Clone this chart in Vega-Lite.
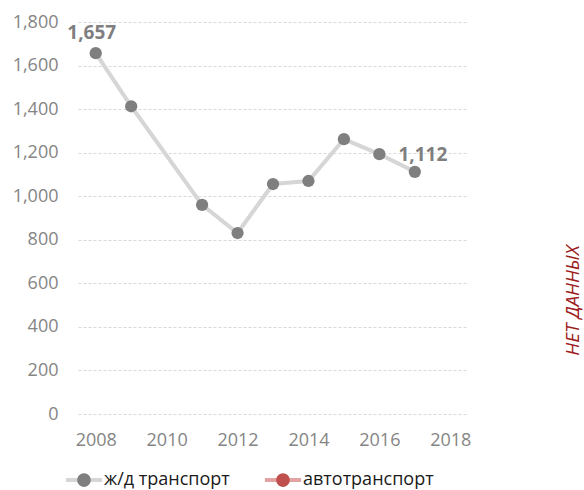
{
  "$schema": "https://vega.github.io/schema/vega-lite/v6.json",
  "autosize": "none",
  "width": 390,
  "height": 392,
  "padding": {"left": 78, "top": 22, "right": 116, "bottom": 76},
  "background": "white",
  "config": {
    "view": {"stroke": null},
    "font": "Open Sans",
    "axis": {"labelFont": "Open Sans", "labelColor": "#858585", "labelFontSize": 18, "domain": false, "ticks": false}
  },
  "data": {
    "values": [
      {"year": 2008, "value": 1657, "series": "ж/д транспорт", "code": "rail"},
      {"year": 2009, "value": 1413, "series": "ж/д транспорт", "code": "rail"},
      {"year": 2011, "value": 960, "series": "ж/д транспорт", "code": "rail"},
      {"year": 2012, "value": 831, "series": "ж/д транспорт", "code": "rail"},
      {"year": 2013, "value": 1056, "series": "ж/д транспорт", "code": "rail"},
      {"year": 2014, "value": 1070, "series": "ж/д транспорт", "code": "rail"},
      {"year": 2015, "value": 1262, "series": "ж/д транспорт", "code": "rail"},
      {"year": 2016, "value": 1193, "series": "ж/д транспорт", "code": "rail"},
      {"year": 2017, "value": 1112, "series": "ж/д транспорт", "code": "rail"}
    ]
  },
  "resolve": {"axis": {"y": "independent"}},
  "layer": [
    {
      "mark": {"type": "line", "strokeWidth": 4},
      "encoding": {
        "x": {"field": "year", "type": "quantitative",
          "scale": {"domain": [2007.5, 2018.5], "nice": false, "zero": false},
          "axis": {"values": [2008, 2010, 2012, 2014, 2016, 2018], "format": "d", "title": null, "grid": false, "labelPadding": 17}},
        "y": {"field": "value", "type": "quantitative",
          "scale": {"domain": [0, 1800], "nice": false},
          "axis": {"values": [0, 200, 400, 600, 800, 1000, 1200, 1400, 1600, 1800], "format": ",d", "title": null, "grid": true, "gridColor": "#d9d9d9", "gridDash": [3, 2], "labelPadding": 20}},
        "stroke": {"field": "series", "type": "nominal",
          "scale": {"domain": ["ж/д транспорт", "автотранспорт"], "range": ["#d6d6d6", "#e3a3a3"]},
          "legend": {"title": null, "orient": "none", "direction": "horizontal", "legendX": -14, "legendY": 438,
            "symbolType": "M-1,0L-0.35,0M0.35,0L1,0", "symbolSize": 1296, "symbolStrokeWidth": 4,
            "labelFont": "Open Sans", "labelFontSize": 18, "labelColor": "#1a1a1a", "labelOffset": 0,
            "columnPadding": 27, "padding": 0}}
      }
    },
    {
      "mark": {"type": "circle", "size": 150, "opacity": 1},
      "encoding": {
        "x": {"field": "year", "type": "quantitative"},
        "y": {"field": "value", "type": "quantitative", "axis": null},
        "fill": {"field": "code", "type": "nominal",
          "scale": {"domain": ["rail", "auto"], "range": ["#7f7f7f", "#c0504d"]},
          "legend": {"title": null, "orient": "none", "direction": "horizontal", "legendX": -14, "legendY": 438,
            "symbolType": "M-1,0L1,0M-0.38,0A0.38,0.38,0,1,1,0.38,0A0.38,0.38,0,1,1,-0.38,0Z", "symbolSize": 1296,
            "symbolStrokeWidth": 4, "symbolStrokeColor": "transparent", "symbolOpacity": 1,
            "labelExpr": "datum.value == 'rail' ? 'ж/д транспорт' : 'автотранспорт'",
            "labelFont": "Open Sans", "labelFontSize": 18, "labelOpacity": 0, "labelOffset": 0,
            "columnPadding": 27, "padding": 0}}
      }
    },
    {
      "transform": [{"filter": "datum.year == 2008"}],
      "mark": {"type": "text", "fontWeight": "bold", "fontSize": 19, "color": "#7f7f7f", "dx": -4, "dy": -20, "font": "Open Sans"},
      "encoding": {
        "x": {"field": "year", "type": "quantitative"},
        "y": {"field": "value", "type": "quantitative",
          "axis": {"orient": "right", "title": "НЕТ ДАННЫХ", "labels": false, "grid": false, "ticks": false, "domain": false,
            "titleAngle": 270, "titleX": 104, "titleY": 278, "titleAlign": "center", "titleBaseline": "middle",
            "titleFont": "Open Sans", "titleFontSize": 19, "titleFontStyle": "italic", "titleFontWeight": "normal", "titleColor": "#9c1c20"}},
        "text": {"field": "value", "type": "quantitative", "format": ",d"}
      }
    },
    {
      "transform": [{"filter": "datum.year == 2017"}],
      "mark": {"type": "text", "fontWeight": "bold", "fontSize": 19, "color": "#7f7f7f", "dx": 8, "dy": -17, "font": "Open Sans"},
      "encoding": {
        "x": {"field": "year", "type": "quantitative"},
        "y": {"field": "value", "type": "quantitative", "axis": null},
        "text": {"field": "value", "type": "quantitative", "format": ",d"}
      }
    }
  ]
}
